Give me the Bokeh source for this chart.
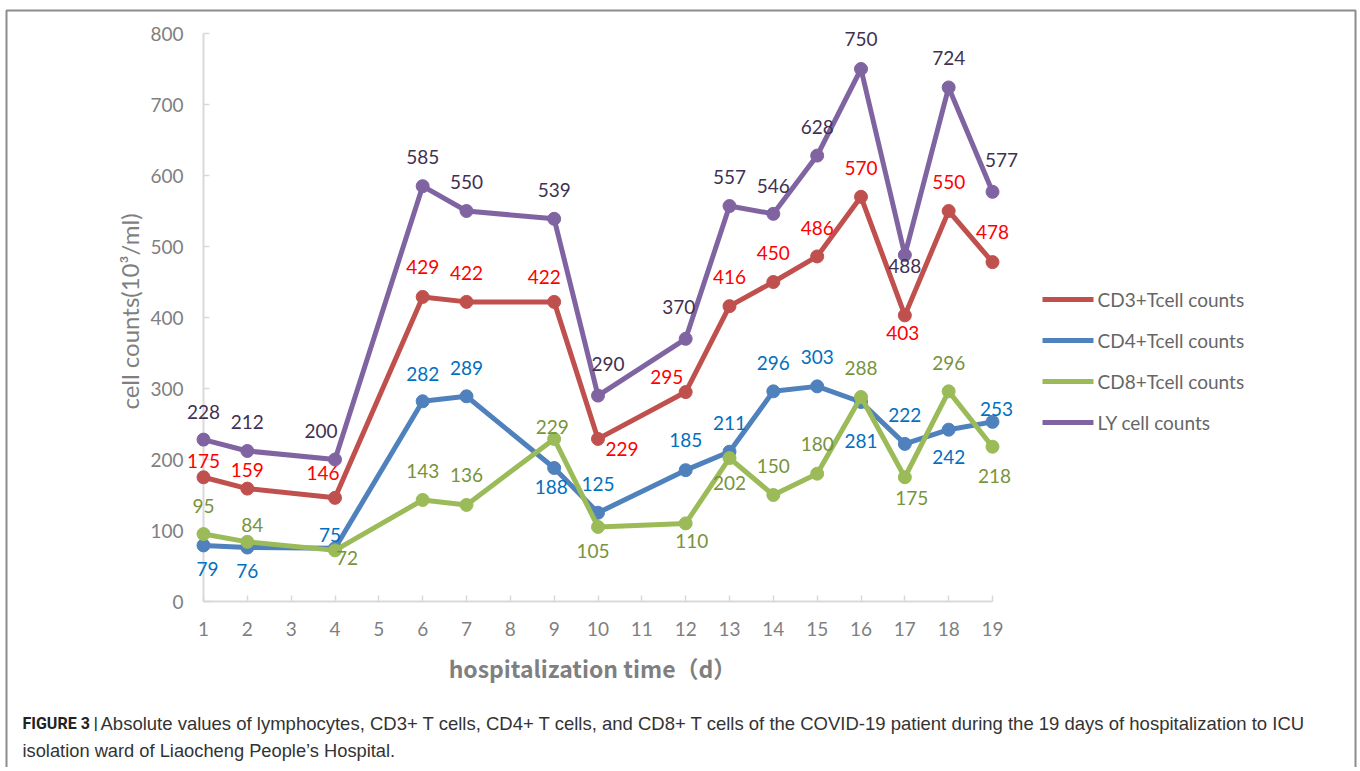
from bokeh.plotting import figure
from bokeh.models import Range1d, FixedTicker, ColumnDataSource
from bokeh.core.properties import value
from bokeh.embed import file_html
from bokeh.resources import INLINE

# ---------------- data ----------------
DAYS_AXIS = list(range(1, 20))
DAYS = [1, 2, 4, 6, 7, 9, 10, 12, 13, 14, 15, 16, 17, 18, 19]
CD3 = [175, 159, 146, 429, 422, 422, 229, 295, 416, 450, 486, 570, 403, 550, 478]
CD4 = [79, 76, 75, 282, 289, 188, 125, 185, 211, 296, 303, 281, 222, 242, 253]
CD8 = [95, 84, 72, 143, 136, 229, 105, 110, 202, 150, 180, 288, 175, 296, 218]
LY = [228, 212, 200, 585, 550, 539, 290, 370, 557, 546, 628, 750, 488, 724, 577]
Y_TICKS = [0, 100, 200, 300, 400, 500, 600, 700, 800]
NAMES = ["CD3+Tcell counts", "CD4+Tcell counts", "CD8+Tcell counts", "LY cell counts"]

# ---------------- label placement (screen px offsets: right, up; style only) ----------------
CD3_OFF = [(0, 16), (0, 19), (-12, 25), (0, 30), (0, 29), (-10, 25), (24, -10), (-19, 15),
           (0, 29), (0, 29), (0, 28), (0, 29), (-2, -18), (0, 29), (0, 30)]
CD4_OFF = [(4, -24), (0, -23), (-5, 13), (0, 27), (0, 28), (-3, -19), (0, 29), (0, 30),
           (0, 29), (0, 28), (0, 29), (0, -39), (0, 29), (0, -27), (4, 13)]
CD8_OFF = [(0, 28), (5, 17), (12, -8), (0, 29), (0, 30), (-2, 12), (-5, -24), (6, -18),
           (0, -25), (0, 29), (0, 30), (0, 29), (7, -21), (0, 28), (2, -29)]
LY_OFF = [(0, 28), (0, 29), (-14, 29), (0, 29), (0, 29), (0, 29), (10, 32), (-7, 32),
          (0, 29), (0, 28), (0, 29), (0, 30), (0, -11), (0, 29), (9, 32)]

LINE_COLORS = ["#C0504D", "#4F81BD", "#9BBB59", "#8064A2"]
LABEL_COLORS = ["#FF0000", "#0070C0", "#77933C", "#403152"]

# ---------------- geometry (canvas px) ----------------
W, H = 1358, 767
FL, FT, FW, FH = 203, 33, 789, 568
X_START, X_END = 1, 19
Y_START, Y_END = 0, 800


def px(c):
    return X_START + (c - FL) / FW * (X_END - X_START)


def py(c):
    return Y_START + (FT + FH - c) / FH * (Y_END - Y_START)


p = figure(width=W, height=H, frame_width=FW, frame_height=FH,
           x_range=Range1d(X_START, X_END), y_range=Range1d(Y_START, Y_END),
           output_backend="svg", toolbar_location=None,
           background_fill_color="white", border_fill_color="white")
p.min_border_left = FL
p.min_border_top = FT
p.min_border_right = W - FL - FW
p.min_border_bottom = H - FT - FH
p.outline_line_color = None
p.xgrid.visible = False
p.ygrid.visible = False

AX_COL = "#D9D9D9"
TICK_TXT = "#7F7F7F"
for ax in (p.xaxis[0], p.yaxis[0]):
    ax.axis_line_color = AX_COL
    ax.axis_line_width = 2
    ax.major_tick_line_color = AX_COL
    ax.major_tick_line_width = 1.5
    ax.major_tick_in = 6
    ax.major_tick_out = 0
    ax.minor_tick_line_color = None
    ax.major_label_text_font = "Lato"
    ax.major_label_text_font_size = "19px"
    ax.major_label_text_color = TICK_TXT
p.xaxis[0].ticker = FixedTicker(ticks=DAYS_AXIS)
p.yaxis[0].ticker = FixedTicker(ticks=Y_TICKS)
p.xaxis[0].major_label_standoff = 20
p.yaxis[0].major_label_standoff = 20

series = [CD3, CD4, CD8, LY]
offsets = [CD3_OFF, CD4_OFF, CD8_OFF, LY_OFF]
sources = []
for vals, offs, lc in zip(series, offsets, LINE_COLORS):
    src = ColumnDataSource(dict(x=DAYS, y=vals, t=[str(v) for v in vals],
                                dx=[o[0] for o in offs], dy=[-o[1] for o in offs]))
    sources.append(src)
    p.line("x", "y", source=src, line_color=lc, line_width=5, level="overlay")
    p.scatter("x", "y", source=src, size=13, fill_color=lc, line_color=lc, level="overlay")

for src, tc in zip(sources, LABEL_COLORS):
    p.text("x", "y", text="t", x_offset="dx", y_offset="dy", source=src,
           text_align="center", text_baseline="middle", text_font=value("Lato"),
           text_font_size="19px", text_color=tc, level="overlay")

# legend (manual, outside plot frame)
LEG_X0, LEG_X1, LEG_Y0, LEG_DY = 1042, 1093, 299, 41
for i, (name, lc) in enumerate(zip(NAMES, LINE_COLORS)):
    yy = py(LEG_Y0 + i * LEG_DY)
    p.segment(x0=[px(LEG_X0)], y0=[yy], x1=[px(LEG_X1)], y1=[yy], line_color=lc,
              line_width=5, level="overlay")
    p.scatter(x=[px((LEG_X0 + LEG_X1) / 2)], y=[yy], size=14, fill_color=lc,
              line_color=lc, level="overlay")
    p.text(x=[px(LEG_X1 + 4)], y=[yy], text=[name], text_align="left",
           text_baseline="middle", text_font=value("Lato"), text_font_size="19px",
           text_color="#666666", level="overlay")

# axis titles
p.text(x=[px(129)], y=[py(311)], text=["cell counts(10³/ml)"], angle=1.5707963,
       text_align="center", text_baseline="middle", text_font=value("Lato"),
       text_font_size="24px", text_color=TICK_TXT, level="overlay")
p.text(x=[px(592)], y=[py(667)], text=["hospitalization time（d）"],
       text_align="center", text_baseline="middle",
       text_font=value("Noto Sans CJK SC"), text_font_style="bold",
       text_font_size="23px", text_color=TICK_TXT, level="overlay")

# caption
p.text(x=[px(22)], y=[py(723)], text=["FIGURE 3 |"], text_align="left",
       text_baseline="middle", text_font=value("'Liberation Sans Narrow', Roboto"),
       text_font_style="bold", text_font_size="16px", text_color="#222222",
       level="overlay")
p.text(x=[px(100)], y=[py(723)],
       text=["Absolute values of lymphocytes, CD3+ T cells, CD4+ T cells, and CD8+ T cells "
             "of the COVID-19 patient during the 19 days of hospitalization to ICU"],
       text_align="left", text_baseline="middle", text_font=value("Liberation Sans"),
       text_font_size="18.5px", text_color="#333333", level="overlay")
p.text(x=[px(22)], y=[py(750)], text=["isolation ward of Liaocheng People’s Hospital."],
       text_align="left", text_baseline="middle", text_font=value("Liberation Sans"),
       text_font_size="18.3px", text_color="#333333", level="overlay")

# outer figure box
p.quad(left=[px(6)], right=[px(1355)], top=[py(10)], bottom=[py(820)],
       fill_color=None, line_color="#8C8C8C", line_width=2, level="overlay")

open("out.html", "w").write(file_html(p, INLINE))
